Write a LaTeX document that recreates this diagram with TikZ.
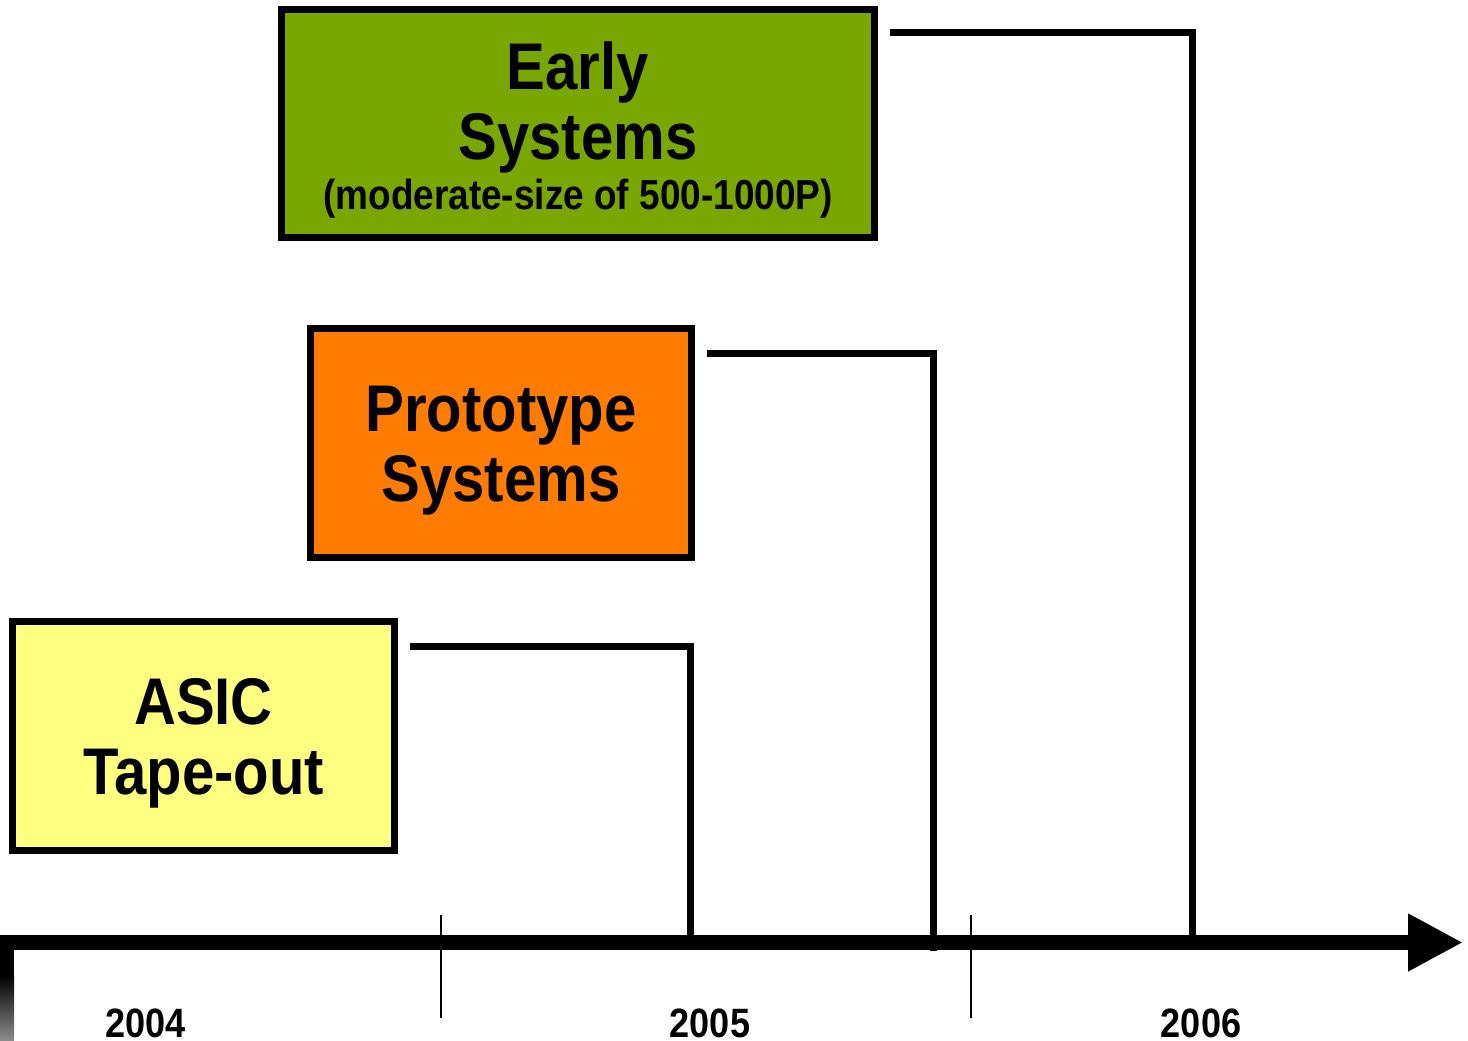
\documentclass[tikz,border=0pt]{standalone}
\usepackage{fontspec}
\setmainfont{Liberation Sans}
\newfontfamily\boxfont[FakeStretch=0.88]{Liberation Sans}
\usetikzlibrary{arrows.meta,calc}
\definecolor{earlygreen}{RGB}{122,166,0}
\definecolor{protoorange}{RGB}{255,124,0}
\definecolor{asicyellow}{RGB}{255,255,128}
\newcommand{\topstrut}{\rule{0pt}{60pt}}
\tikzset{
  phasebox/.style={draw=black, line width=7pt, inner sep=0pt, align=center,
    font=\boxfont\bfseries\fontsize{66}{70}\selectfont},
  conn/.style={draw=black, line width=7pt, line join=miter},
  tick/.style={draw=black, line width=2pt},
  year/.style={font=\boxfont\bfseries\fontsize{41}{44}\selectfont, anchor=base, inner sep=0pt}
}
\begin{document}
\begin{tikzpicture}[x=1pt,y=-1pt]
\useasboundingbox (0,0) rectangle (1468,1041);
% boxes
\node[phasebox, fill=earlygreen, minimum width=593pt, minimum height=228pt] (early) at (578,123.5)
  {\topstrut Early\\Systems\\[-20pt]{\fontsize{42}{44}\selectfont(moderate-size of 500-1000P)}};
\node[phasebox, fill=protoorange, minimum width=381pt, minimum height=229pt] (proto) at (501,443)
  {\topstrut Prototype\\Systems};
\node[phasebox, fill=asicyellow, minimum width=382pt, minimum height=229pt] (asic) at (203.5,736)
  {\topstrut ASIC\\Tape-out};
% axis
\coordinate (axisL) at (0,942.5);
\coordinate (axisR) at (1463,942.5);
\draw[line width=15pt, -{Triangle[length=55pt,width=54pt]}] (axisL) -- (axisR);
\shade[top color=black, bottom color=black!45] (0,975) rectangle (14,1041);
\fill[black] (0,935) rectangle (14,976);
% ticks
\coordinate (k1a) at (441,915); \coordinate (k1b) at (441,1018);
\coordinate (k2a) at (971,915); \coordinate (k2b) at (971,1018);
\draw[tick] (k1a) -- (k1b);
\draw[tick] (k2a) -- (k2b);
% connectors
\coordinate (t1) at (690,942);
\coordinate (t2) at (933,951);
\coordinate (t3) at (1192,942);
\draw[conn] ($(asic.north east)+(12,28)$) -| (t1);
\draw[conn] ($(proto.north east)+(12,28)$) -| (t2);
\draw[conn] ($(early.north east)+(12,27)$) -| (t3);
% years
\node[year] (y2004) at (145.5,1037) {2004};
\node[year] (y2005) at (710,1037) {2005};
\node[year] (y2006) at (1201,1037) {2006};
\end{tikzpicture}
\end{document}
